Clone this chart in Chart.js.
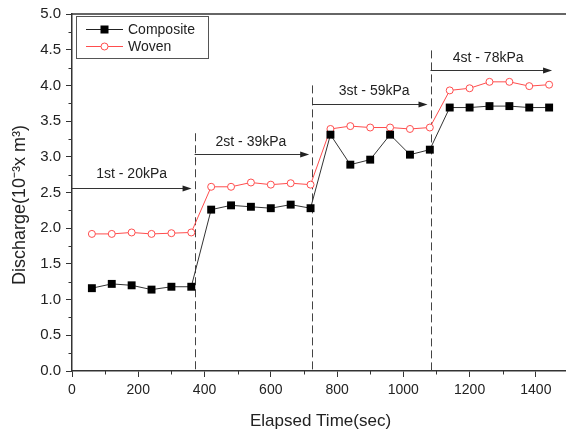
<!DOCTYPE html>
<html>
<head>
<meta charset="utf-8">
<script src="https://cdn.jsdelivr.net/npm/chart.js@4.4.0/dist/chart.umd.min.js"></script>
<style>
html, body { margin: 0; padding: 0; background: #fff; overflow: hidden; }
#wrap { width: 576px; height: 432px; }
</style>
</head>
<body>
<div id="wrap"><canvas id="canvas" width="576" height="432"></canvas></div>
<script>
// elapsed time of each reading (sec)
const times = [60, 120, 180, 240, 300, 360, 420, 480, 540, 600, 660, 720,
               780, 840, 900, 960, 1020, 1080, 1140, 1200, 1260, 1320, 1380, 1440];
const composite = [1.16, 1.22, 1.20, 1.14, 1.18, 1.18,
                   2.26, 2.32, 2.30, 2.28, 2.33, 2.28,
                   3.31, 2.89, 2.96, 3.31, 3.03, 3.10,
                   3.69, 3.69, 3.71, 3.71, 3.69, 3.69];
const woven = [1.92, 1.92, 1.94, 1.92, 1.93, 1.94,
               2.58, 2.58, 2.64, 2.61, 2.63, 2.61,
               3.39, 3.43, 3.41, 3.41, 3.39, 3.41,
               3.93, 3.96, 4.05, 4.05, 3.99, 4.01];

// pressure stages
const stageNames = ["1st - 20kPa", "2st - 39kPa", "3st - 59kPa", "4st - 78kPa"];
const stageStart = [0, 370, 725, 1082];
const stageEnd = [370, 725, 1082, 1458];
const arrowY = [2.56, 3.04, 3.74, 4.22];
const nameX = [180, 540, 912, 1256];
const nameY = [2.76, 3.21, 3.92, 4.38];
const dividerX = [370, 725, 1082];
const dividerTop = [3.33, 4.0, 4.49];

const FONT = "'Liberation Sans', Arial, sans-serif";
Chart.defaults.font.family = FONT;

const RED = "#ff4d4d";
const INK = "#222";

function toPoints(ys) {
    return times.map((t, i) => ({ x: t, y: ys[i] }));
}

function isMajorX(v) { return v % 200 === 0; }
function isMajorY(v) { return Math.round(v * 100) % 50 === 0; }

const decor = {
    id: "decor",
    beforeDatasetsDraw(chart) {
        const ctx = chart.ctx;
        const x = chart.scales.x, y = chart.scales.y;
        const area = chart.chartArea;
        ctx.save();
        // top frame
        ctx.strokeStyle = "#333";
        ctx.lineWidth = 1.5;
        ctx.beginPath();
        ctx.moveTo(area.left, area.top);
        ctx.lineTo(area.right, area.top);
        ctx.stroke();

        // stage dividers
        ctx.strokeStyle = "#444";
        ctx.lineWidth = 1;
        ctx.setLineDash([8, 4]);
        for (let i = 0; i < dividerX.length; i++) {
            const px = Math.round(x.getPixelForValue(dividerX[i])) + 0.5;
            ctx.beginPath();
            ctx.moveTo(px, y.getPixelForValue(dividerTop[i]));
            ctx.lineTo(px, area.bottom);
            ctx.stroke();
        }
        ctx.setLineDash([]);

        // stage arrows + names
        ctx.fillStyle = INK;
        ctx.strokeStyle = "#333";
        ctx.font = "14px " + FONT;
        ctx.textAlign = "center";
        ctx.textBaseline = "middle";
        for (let i = 0; i < stageNames.length; i++) {
            const x1 = x.getPixelForValue(stageStart[i]);
            const x2 = x.getPixelForValue(stageEnd[i]) - 3;
            const py = Math.round(y.getPixelForValue(arrowY[i])) + 0.5;
            ctx.beginPath();
            ctx.moveTo(x1, py);
            ctx.lineTo(x2 - 6, py);
            ctx.stroke();
            ctx.beginPath();
            ctx.moveTo(x2, py);
            ctx.lineTo(x2 - 9, py - 3);
            ctx.lineTo(x2 - 9, py + 3);
            ctx.closePath();
            ctx.fill();
            ctx.fillText(stageNames[i], x.getPixelForValue(nameX[i]), y.getPixelForValue(nameY[i]));
        }

        // minor ticks
        ctx.strokeStyle = "#333";
        ctx.lineWidth = 1;
        x.ticks.forEach(t => {
            if (isMajorX(t.value)) return;
            const px = Math.round(x.getPixelForValue(t.value)) + 0.5;
            ctx.beginPath();
            ctx.moveTo(px, area.bottom);
            ctx.lineTo(px, area.bottom + 3.5);
            ctx.stroke();
        });
        y.ticks.forEach(t => {
            if (isMajorY(t.value)) return;
            const py = Math.round(y.getPixelForValue(t.value)) + 0.5;
            ctx.beginPath();
            ctx.moveTo(area.left, py);
            ctx.lineTo(area.left - 3.5, py);
            ctx.stroke();
        });
        ctx.restore();
    },
    afterDraw(chart) {
        const ctx = chart.ctx;
        const area = chart.chartArea;
        const bx = area.left + 4, by = area.top + 2;
        ctx.save();
        ctx.fillStyle = "#fff";
        ctx.strokeStyle = "#555";
        ctx.lineWidth = 1;
        ctx.fillRect(bx, by, 132, 42);
        ctx.strokeRect(bx + 0.5, by + 0.5, 132, 42);

        const rows = [
            { text: "Composite", color: "#222", y: by + 13 },
            { text: "Woven", color: RED, y: by + 30 }
        ];
        ctx.font = "14px " + FONT;
        ctx.textBaseline = "middle";
        ctx.textAlign = "left";
        rows.forEach((r, i) => {
            const ly = Math.round(r.y) + 0.5;
            ctx.strokeStyle = r.color;
            ctx.beginPath();
            ctx.moveTo(bx + 10, ly);
            ctx.lineTo(bx + 47, ly);
            ctx.stroke();
            const mx = bx + 28.5;
            if (i === 0) {
                ctx.fillStyle = "#000";
                ctx.fillRect(mx - 4, ly - 4, 8, 8);
            } else {
                ctx.fillStyle = "#fff";
                ctx.beginPath();
                ctx.arc(mx, ly, 3.5, 0, Math.PI * 2);
                ctx.fill();
                ctx.stroke();
            }
            ctx.fillStyle = INK;
            ctx.fillText(r.text, bx + 52, r.y + 1);
        });
        ctx.restore();
    }
};

const config = {
    type: "line",
    data: {
        datasets: [
            {
                label: "Composite",
                data: toPoints(composite),
                borderColor: "#333",
                backgroundColor: "#000",
                borderWidth: 1,
                pointStyle: "rect",
                pointRadius: 5.6,
                pointBorderWidth: 0,
                pointBorderColor: "#000",
                tension: 0,
            },
            {
                label: "Woven",
                data: toPoints(woven),
                borderColor: RED,
                backgroundColor: "#fff",
                borderWidth: 1,
                pointStyle: "circle",
                pointRadius: 3.5,
                pointBorderWidth: 1,
                pointBorderColor: RED,
                pointBackgroundColor: "#fff",
                tension: 0,
            },
        ],
    },
    options: {
        responsive: false,
        animation: false,
        layout: { padding: { top: 13, right: 7, left: 0, bottom: 0 } },
        plugins: {
            legend: { display: false },
            tooltip: { enabled: false },
        },
        scales: {
            x: {
                type: "linear",
                min: 0,
                max: 1500,
                afterFit: function (scale) { scale.height = 61; },
                ticks: {
                    stepSize: 100,
                    autoSkip: false,
                    maxRotation: 0,
                    padding: 5,
                    color: INK,
                    font: { size: 14 },
                    callback: function (value) { return isMajorX(value) ? String(value) : ""; },
                },
                grid: {
                    drawOnChartArea: false,
                    tickLength: 6,
                    tickColor: function (c) { return c.tick && isMajorX(c.tick.value) ? "#333" : "rgba(0,0,0,0)"; },
                },
                border: { color: "#333", width: 1.5 },
                title: { display: true, text: "Elapsed Time(sec)", color: INK, font: { size: 17 }, padding: 0 },
            },
            y: {
                min: 0,
                max: 5,
                afterFit: function (scale) { scale.width = 72; },
                ticks: {
                    stepSize: 0.25,
                    autoSkip: false,
                    padding: 5,
                    color: INK,
                    font: { size: 15 },
                    callback: function (value) { return isMajorY(value) ? value.toFixed(1) : ""; },
                },
                grid: {
                    drawOnChartArea: false,
                    tickLength: 6,
                    tickColor: function (c) { return c.tick && isMajorY(c.tick.value) ? "#333" : "rgba(0,0,0,0)"; },
                },
                border: { color: "#333", width: 1.5 },
                title: {
                    display: true,
                    text: "Discharge(10\u207B\u00B3x m\u00B3)\u00A0\u00A0\u00A0\u00A0\u00A0",
                    color: INK,
                    font: { size: 18 },
                    padding: { top: 9, bottom: 0 },
                },
            },
        },
    },
    plugins: [decor],
};

let chart;

function initGraph() {
    const context = document.getElementById("canvas");
    chart = new Chart(context, config);
}

initGraph();
</script>
</body>
</html>
